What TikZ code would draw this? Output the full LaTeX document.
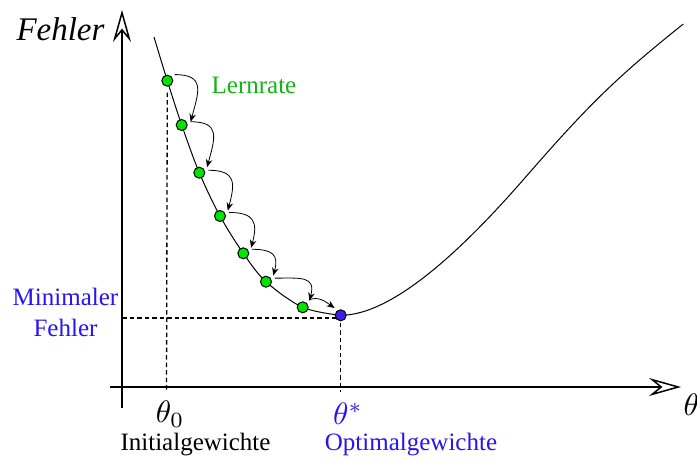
\documentclass[tikz,border=0pt]{standalone}
\usepackage{fontspec}
\setmainfont{Liberation Serif}
\usetikzlibrary{arrows.meta}
\definecolor{dotgreen}{RGB}{0,230,0}
\definecolor{txtgreen}{RGB}{20,180,20}
\definecolor{txtblue}{RGB}{40,20,240}
\definecolor{dotblue}{RGB}{60,30,240}
\begin{document}
\begin{tikzpicture}[x=1pt,y=1pt,
  axis/.style={line width=1.5pt, -{Stealth[open,length=32pt,width=18pt,inset=11pt,line width=1.5pt]}},
  guide/.style={dash pattern=on 4.5pt off 3pt, line width=1.3pt},
  curvestyle/.style={line width=1pt},
  dot/.style={circle, draw, line width=1pt, minimum size=11pt, inner sep=0pt, outer sep=4pt},
  gdot/.style={dot, fill=dotgreen},
  bdot/.style={dot, fill=dotblue},
  hop/.style={line width=0.8pt, -{Stealth[length=8pt,width=6.5pt]}, looseness=1.6},
  lbl/.style={font=\fontsize{25}{31}\selectfont},
  mathlbl/.style={scale=3.1},
]
\useasboundingbox (0,-459) rectangle (697,0);
% axes
\coordinate (ybot) at (122,-408);
\coordinate (ytop) at (122,-10);
\coordinate (xleft) at (110,-387);
\coordinate (xright) at (681,-387);
\draw[axis] (ybot) -- (ytop);
\draw[axis] (xleft) -- (xright);
% curve points
\coordinate (c1) at (167.3,-80.7);
\coordinate (c2) at (181.7,-125);
\coordinate (c3) at (199.3,-172.7);
\coordinate (c4) at (220,-216);
\coordinate (c5) at (243.3,-253.3);
\coordinate (c6) at (266,-281.7);
\coordinate (c7) at (302.7,-307.3);
\coordinate (c8) at (340.7,-315.3);
\coordinate (infl) at (525,-177.8);
\coordinate (cend) at (683.3,-24);
% guides
\coordinate (t0) at (166.5,-392);
\coordinate (ts) at (340.7,-392);
\coordinate (fm) at (122,-318);
\draw[guide] ([yshift=-12pt]c1) -- (t0);
\draw[guide] (c8) -- (ts);
\draw[guide] (fm) -- (c8 |- fm);
% curve
\draw[curvestyle] plot[smooth, tension=0.55] coordinates {(154,-37) (c1) (c2) (c3) (c4) (c5) (c6) (c7) (c8)}
  .. controls (395.7,-315.3) and (470,-241) .. (infl)
  .. controls (590,-103) and (618.3,-76) .. (cend);
% dots
\node[gdot] (p1) at (c1) {};
\node[gdot] (p2) at (c2) {};
\node[gdot] (p3) at (c3) {};
\node[gdot] (p4) at (c4) {};
\node[gdot] (p5) at (c5) {};
\node[gdot] (p6) at (c6) {};
\node[gdot] (p7) at (c7) {};
\node[bdot] (p8) at (c8) {};
% hops
\draw[hop] (p1.40) to[out=0,in=75] (p2.20);
\draw[hop] (p2.20) to[out=0,in=75] (p3.35);
\draw[hop] (p3.15) to[out=0,in=75] (p4.35);
\draw[hop] (p4.22) to[out=0,in=75] (p5.35);
\draw[hop] (p5.25) to[out=0,in=75] (p6.40);
\draw[hop] (p6.22) to[out=0,in=75] (p7.45);
\draw[hop, looseness=1] (p7.50) to[out=25,in=145] (p8.130);
% labels
\node[anchor=base east, font=\fontsize{33}{40}\selectfont\itshape] (ylab) at (108,-40) {Fehler};
\node[lbl, anchor=base, text=txtgreen] (lr) at (254,-93.3) {Lernrate};
\node[lbl, align=center, text=txtblue] (mf) at (65.5,-312) {Minimaler\\Fehler};
\node[mathlbl] (th0) at (170,-414) {$\theta_0$};
\node[mathlbl, text=txtblue] (ths) at (348,-414) {$\theta^*$};
\node[lbl, anchor=base] (ig) at (195.5,-450) {Initialgewichte};
\node[lbl, anchor=base, text=txtblue] (og) at (411,-450) {Optimalgewichte};
\node[mathlbl, anchor=west, inner sep=0pt] (xlab) at (683,-405) {$\theta$};
\end{tikzpicture}
\end{document}
